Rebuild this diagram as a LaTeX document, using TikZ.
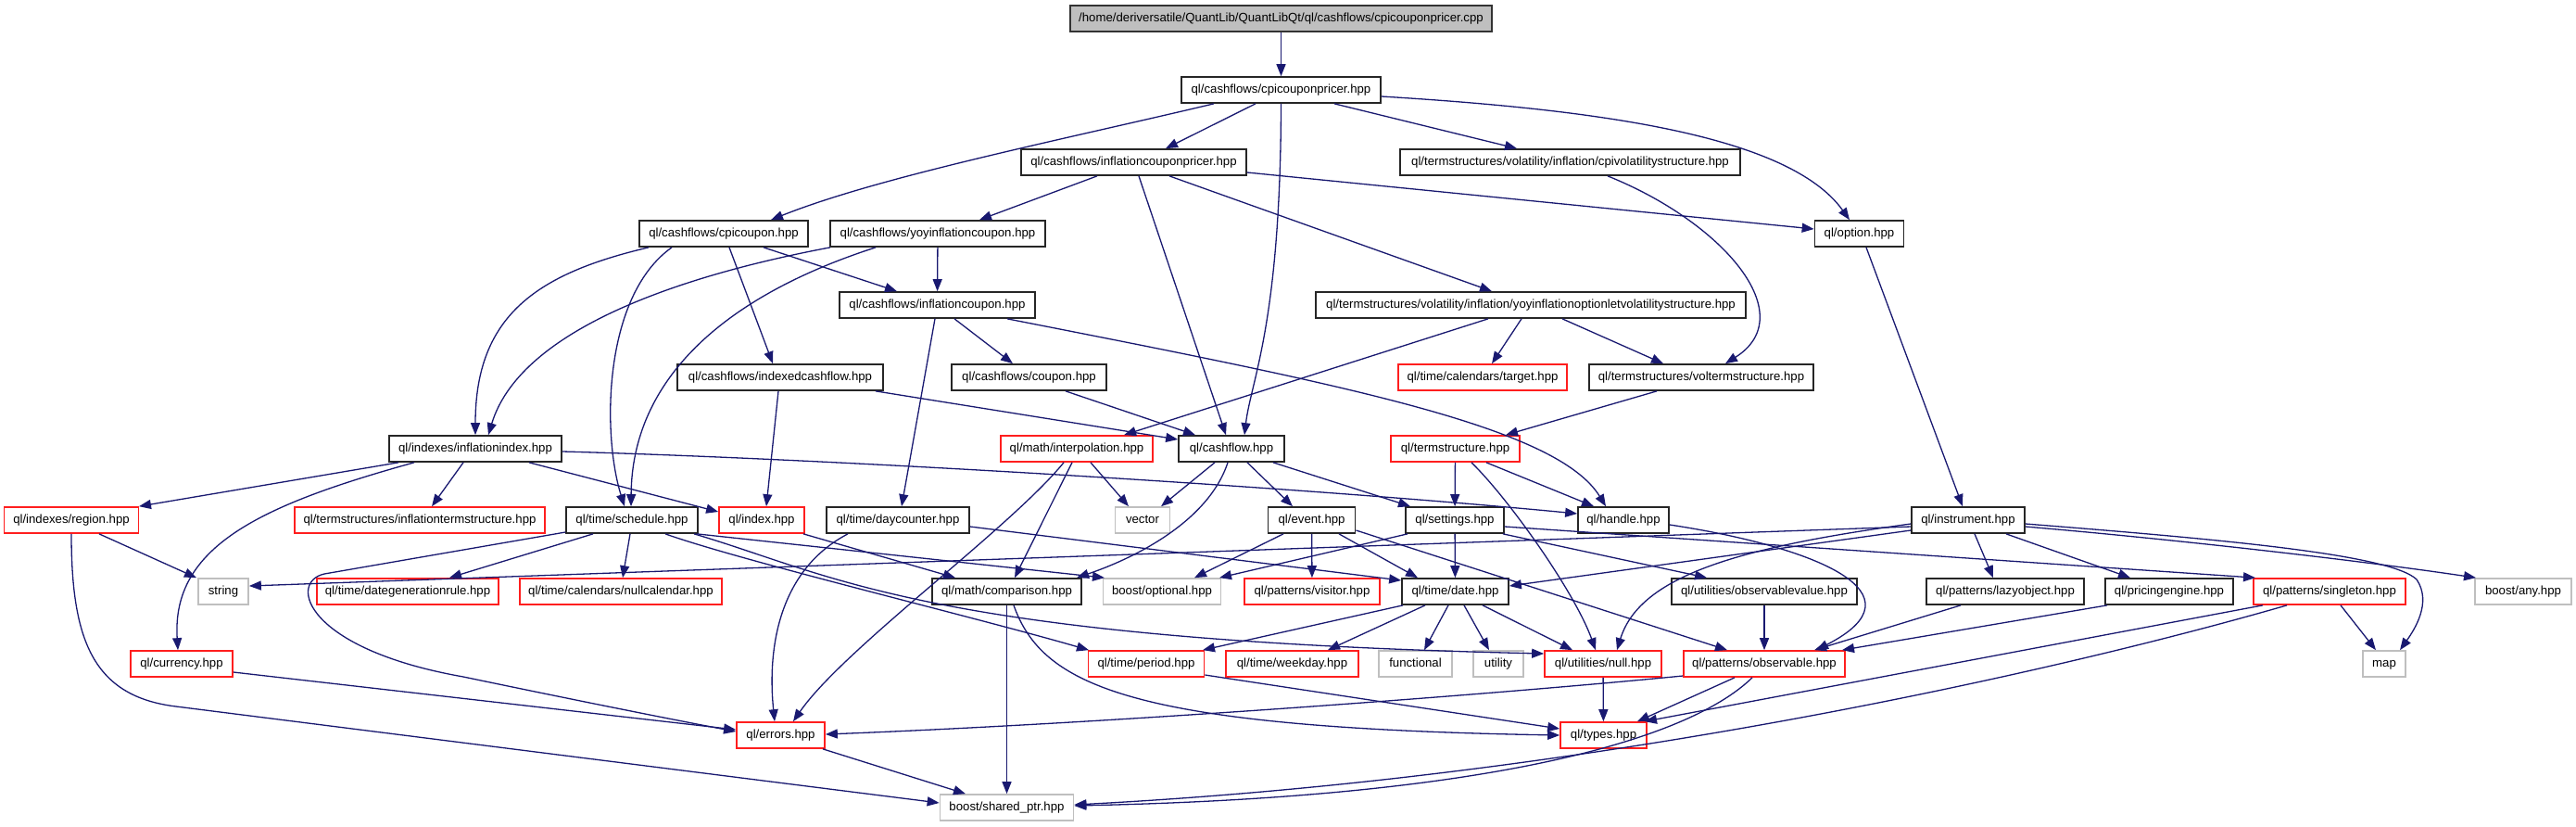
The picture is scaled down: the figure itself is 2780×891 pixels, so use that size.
\documentclass[tikz,border=0pt]{standalone}
\usepackage{fontspec}
\setmainfont{Liberation Sans}
\usetikzlibrary{arrows.meta}
\definecolor{edgeblue}{RGB}{25,25,112}
\definecolor{redb}{RGB}{255,30,30}
\definecolor{grayb}{RGB}{191,191,191}
\begin{document}
\begin{tikzpicture}[x=0.5pt,y=-0.5pt,
  box/.style={rectangle, minimum height=14pt, inner sep=0pt, font=\fontsize{6.6pt}{7pt}\selectfont, text height=4.8pt, text depth=1.3pt},
  bbox/.style={box, draw=black!85, line width=0.85pt},
  rbox/.style={box, draw=redb, line width=0.85pt},
  gbox/.style={box, draw=grayb, line width=0.85pt},
  topbox/.style={box, draw=black!80, fill=grayb, line width=0.85pt},
  e/.style={draw=edgeblue, line width=0.65pt, -{Triangle[length=6.5pt,width=5pt]}}
]
\useasboundingbox (0,0) rectangle (2780,891);
% nodes
\node[topbox,minimum width=227.5pt] (cpp) at (1382.5,20) {/home/deriversatile/QuantLib/QuantLibQt/ql/cashflows/cpicouponpricer.cpp};
\node[bbox,minimum width=107.5pt] (P) at (1382.5,97) {ql/cashflows/cpicouponpricer.hpp};
\node[bbox,minimum width=121.5pt] (icp) at (1223.5,175) {ql/cashflows/inflationcouponpricer.hpp};
\node[bbox,minimum width=183.5pt] (cpivol) at (1694.5,175) {ql/termstructures/volatility/inflation/cpivolatilitystructure.hpp};
\node[bbox,minimum width=91pt] (cc) at (781,252) {ql/cashflows/cpicoupon.hpp};
\node[bbox,minimum width=116pt] (yoy) at (1012,252) {ql/cashflows/yoyinflationcoupon.hpp};
\node[bbox,minimum width=48pt] (opt) at (2006.5,252) {ql/option.hpp};
\node[bbox,minimum width=105.5pt] (ic) at (1011.5,329) {ql/cashflows/inflationcoupon.hpp};
\node[bbox,minimum width=232pt] (yoyvol) at (1652,329) {ql/termstructures/volatility/inflation/yoyinflationoptionletvolatilitystructure.hpp};
\node[bbox,minimum width=111pt] (icf) at (842,407) {ql/cashflows/indexedcashflow.hpp};
\node[bbox,minimum width=83.5pt] (cpn) at (1110.5,407) {ql/cashflows/coupon.hpp};
\node[rbox,minimum width=91pt] (tgt) at (1600,407) {ql/time/calendars/target.hpp};
\node[bbox,minimum width=121pt] (vts) at (1836,407) {ql/termstructures/voltermstructure.hpp};
\node[bbox,minimum width=93pt] (infl) at (513,484) {ql/indexes/inflationindex.hpp};
\node[rbox,minimum width=82pt] (interp) at (1162,484) {ql/math/interpolation.hpp};
\node[bbox,minimum width=57pt] (cf) at (1329,484) {ql/cashflow.hpp};
\node[rbox,minimum width=69.5pt] (ts) at (1570.5,484) {ql/termstructure.hpp};
\node[rbox,minimum width=72.5pt] (reg) at (77,561) {ql/indexes/region.hpp};
\node[rbox,minimum width=135pt] (its) at (453,561) {ql/termstructures/inflationtermstructure.hpp};
\node[bbox,minimum width=71pt] (sch) at (682,561) {ql/time/schedule.hpp};
\node[rbox,minimum width=46pt] (idx) at (822,561) {ql/index.hpp};
\node[bbox,minimum width=77pt] (dc) at (969,561) {ql/time/daycounter.hpp};
\node[gbox,minimum width=29.5pt] (vec) at (1233,561) {vector};
\node[bbox,minimum width=47pt] (ev) at (1415.6,561) {ql/event.hpp};
\node[bbox,minimum width=53pt] (set) at (1570,561) {ql/settings.hpp};
\node[bbox,minimum width=49pt] (hdl) at (1752,561) {ql/handle.hpp};
\node[bbox,minimum width=61pt] (ins) at (2124,561) {ql/instrument.hpp};
\node[gbox,minimum width=27pt] (str) at (241,638) {string};
\node[rbox,minimum width=98pt] (dgr) at (440,638) {ql/time/dategenerationrule.hpp};
\node[rbox,minimum width=109pt] (nullcal) at (670,638) {ql/time/calendars/nullcalendar.hpp};
\node[bbox,minimum width=80.5pt] (cmp) at (1086.5,638) {ql/math/comparison.hpp};
\node[gbox,minimum width=63.5pt] (optl) at (1254,638) {boost/optional.hpp};
\node[rbox,minimum width=73pt] (vis) at (1416,638) {ql/patterns/visitor.hpp};
\node[bbox,minimum width=57.5pt] (date) at (1570.5,638) {ql/time/date.hpp};
\node[bbox,minimum width=100pt] (obv) at (1904,638) {ql/utilities/observablevalue.hpp};
\node[bbox,minimum width=85pt] (lazy) at (2164,638) {ql/patterns/lazyobject.hpp};
\node[bbox,minimum width=69pt] (pe) at (2341,638) {ql/pricingengine.hpp};
\node[rbox,minimum width=82pt] (sgl) at (2514,638) {ql/patterns/singleton.hpp};
\node[gbox,minimum width=52pt] (any) at (2723,638) {boost/any.hpp};
\node[rbox,minimum width=55pt] (cur) at (196,716) {ql/currency.hpp};
\node[rbox,minimum width=62.5pt] (per) at (1237,716) {ql/time/period.hpp};
\node[rbox,minimum width=71.5pt] (wk) at (1394.5,716) {ql/time/weekday.hpp};
\node[gbox,minimum width=39.5pt] (fun) at (1527.5,716) {functional};
\node[gbox,minimum width=26.7pt] (utl) at (1617,716) {utility};
\node[rbox,minimum width=63pt] (nul) at (1730,716) {ql/utilities/null.hpp};
\node[rbox,minimum width=87pt] (obs) at (1904,716) {ql/patterns/observable.hpp};
\node[gbox,minimum width=23pt] (map) at (2573,716) {map};
\node[rbox,minimum width=47.5pt] (err) at (842.5,793) {ql/errors.hpp};
\node[rbox,minimum width=46.5pt] (typ) at (1730.5,793) {ql/types.hpp};
\node[gbox,minimum width=72pt] (sp) at (1086.5,871) {boost/shared\_ptr.hpp};
% edges
\draw[e] (cpp) -- (P);
\draw[e] (P.south -| 1310,0) .. controls (1150,150) and (950,190) .. (cc.north -| 832,0);
\draw[e] (P.south -| 1355,0) -- (icp.north -| 1258,0);
\draw[e] (P.south) .. controls (1382,350) and (1350,410) .. (cf.north -| 1343,0);
\draw[e] (P.south -| 1440,0) -- (cpivol.north -| 1637,0);
\draw[e] (P.east |- 0,104) .. controls (1720,118) and (1930,145) .. (opt.north -| 1996,0);
\draw[e] (icp.south -| 1184,0) -- (yoy.north -| 1057,0);
\draw[e] (icp.south -| 1229,0) -- (cf.north -| 1323,0);
\draw[e] (icp.east |- 0,186) -- (opt.west |- 0,247);
\draw[e] (icp.south -| 1262,0) -- (yoyvol.north -| 1610,0);
\draw[e] (cpivol.south -| 1735,0) .. controls (1860,240) and (1945,340) .. (vts.north -| 1862,0);
\draw[e] (opt.south -| 2014,0) -- (ins.north -| 2118,0);
\draw[e] (cc.south -| 700,0) .. controls (580,295) and (513,340) .. (infl.north -| 513,0);
\draw[e] (cc.south -| 725,0) .. controls (650,320) and (650,470) .. (sch.north -| 674,0);
\draw[e] (cc.south -| 787,0) -- (icf.north -| 834,0);
\draw[e] (cc.south -| 824,0) -- (ic.north -| 968,0);
\draw[e] (yoy.south -| 896,0) .. controls (720,300) and (560,360) .. (infl.north -| 527,0);
\draw[e] (yoy.south -| 945,0) .. controls (780,320) and (682,410) .. (sch.north -| 681,0);
\draw[e] (yoy) -- (ic);
\draw[e] (ic.south -| 1009,0) -- (dc.north -| 973,0);
\draw[e] (ic.south -| 1030,0) -- (cpn.north -| 1093,0);
\draw[e] (ic.south -| 1087,0) .. controls (1450,415) and (1680,460) .. (hdl.north -| 1733,0);
\draw[e] (icf.south -| 840,0) -- (idx.north -| 827,0);
\draw[e] (icf.south -| 945,0) -- (cf.west |- 0,474);
\draw[e] (cpn.south -| 1150,0) -- (cf.north -| 1290,0);
\draw[e] (yoyvol.south -| 1606,0) -- (interp.north -| 1213,0);
\draw[e] (yoyvol.south -| 1642,0) -- (tgt.north -| 1610,0);
\draw[e] (yoyvol.south -| 1686,0) -- (vts.north -| 1795,0);
\draw[e] (vts.south -| 1788,0) -- (ts.north -| 1625,0);
\draw[e] (infl.south -| 430,0) -- (reg.north -| 150,0);
\draw[e] (infl.south -| 447,0) .. controls (280,545) and (185,590) .. (cur.north -| 192,0);
\draw[e] (infl.south -| 500,0) -- (its.north -| 466,0);
\draw[e] (infl.south -| 571,0) -- (idx.west |- 0,552);
\draw[e] (infl.east |- 0,487) .. controls (900,495) and (1400,525) .. (hdl.west |- 0,554);
\draw[e] (interp.south -| 1177,0) -- (vec.north -| 1218,0);
\draw[e] (interp.south -| 1157,0) -- (cmp.north -| 1095,0);
\draw[e] (interp.south -| 1148,0) .. controls (1090,570) and (910,700) .. (err.north -| 856,0);
\draw[e] (cf.south -| 1311,0) -- (vec.north -| 1253,0);
\draw[e] (cf.south -| 1346,0) -- (ev.north -| 1395,0);
\draw[e] (cf.south -| 1374,0) -- (set.north -| 1522,0);
\draw[e] (cf.south -| 1325,0) .. controls (1305,560) and (1230,600) .. (cmp.north -| 1162,0);
\draw[e] (ts) -- (set);
\draw[e] (ts.south -| 1604,0) -- (hdl.north -| 1720,0);
\draw[e] (ts.south -| 1588,0) .. controls (1630,540) and (1700,640) .. (nul.north -| 1722,0);
\draw[e] (reg.south -| 107,0) -- (str.north -| 212,0);
\draw[e] (reg.south -| 77,0) .. controls (77,690) and (100,751) .. (190,762) -- (sp.west |- 0,866);
\draw[e] (sch.west |- 0,574) -- (350,619) .. controls (310,628) and (330,700) .. (500,730) .. controls (620,755) and (720,775) .. (err.west |- 0,789);
\draw[e] (sch.south -| 640,0) -- (dgr.north -| 485,0);
\draw[e] (sch.south -| 680,0) -- (nullcal.north -| 672,0);
\draw[e] (sch.south -| 718,0) .. controls (800,605) and (1050,665) .. (per.north -| 1175,0);
\draw[e] (sch.south -| 749,0) .. controls (900,620) and (1000,690) .. (nul.west |- 0,705);
\draw[e] (sch.south -| 752,0) -- (optl.north -| 1192,0);
\draw[e] (idx.south -| 867,0) -- (cmp.north -| 1031,0);
\draw[e] (dc.south -| 915,0) .. controls (840,615) and (828,700) .. (err.north -| 836,0);
\draw[e] (dc.east |- 0,568) -- (date.west |- 0,626);
\draw[e] (ev) -- (vis);
\draw[e] (ev.south -| 1445,0) -- (date.north -| 1530,0);
\draw[e] (ev.east |- 0,572) -- (obs.north -| 1864,0);
\draw[e] (ev.south -| 1385,0) -- (optl.north -| 1289,0);
\draw[e] (set.south -| 1519,0) -- (optl.north -| 1316,0);
\draw[e] (set) -- (date);
\draw[e] (set.south -| 1622,0) -- (obv.north -| 1842,0);
\draw[e] (set.east |- 0,568) -- (sgl.north -| 2434,0);
\draw[e] (hdl.east |- 0,566) .. controls (1960,590) and (2080,640) .. (obs.north -| 1960,0);
\draw[e] (ins.west |- 0,565) .. controls (1880,590) and (1770,620) .. (nul.north -| 1745,0);
\draw[e] (ins.west |- 0,572) -- (date.east |- 0,632);
\draw[e] (ins.west |- 0,568) -- (str.east |- 0,632);
\draw[e] (ins.south -| 2131,0) -- (lazy.north -| 2151,0);
\draw[e] (ins.south -| 2165,0) -- (pe.north -| 2299,0);
\draw[e] (ins.east |- 0,568) .. controls (2350,582) and (2550,605) .. (any.north -| 2672,0);
\draw[e] (ins.east |- 0,565) .. controls (2400,582) and (2580,598) .. (2608,625) .. controls (2625,650) and (2605,680) .. (map.north -| 2590,0);
\draw[e] (lazy.south -| 2116,0) -- (obs.north -| 1958,0);
\draw[e] (pe.south -| 2274,0) -- (obs.north -| 1988,0);
\draw[e] (obv) -- (obs);
\draw[e] (sgl.south -| 2442,0) -- (typ.north -| 1775,0);
\draw[e] (sgl.south -| 2468,0) .. controls (2200,730) and (1700,840) .. (sp.east |- 0,868);
\draw[e] (sgl.south -| 2526,0) -- (map.north -| 2564,0);
\draw[e] (obs.south -| 1872,0) -- (typ.north -| 1767,0);
\draw[e] (obs.west |- 0,729) .. controls (1600,750) and (1200,780) .. (err.east |- 0,792);
\draw[e] (obs.south -| 1891,0) .. controls (1820,800) and (1600,860) .. (sp.east |- 0,869);
\draw[e] (nul) -- (typ);
\draw[e] (date.south -| 1538,0) -- (wk.north -| 1433,0);
\draw[e] (date.south -| 1563,0) -- (fun.north -| 1537,0);
\draw[e] (date.south -| 1580,0) -- (utl.north -| 1607,0);
\draw[e] (date.south -| 1600,0) -- (nul.north -| 1697,0);
\draw[e] (date.south -| 1514,0) -- (per.north -| 1298,0);
\draw[e] (per.east |- 0,728) -- (typ.west |- 0,786);
\draw[e] (cmp) -- (sp);
\draw[e] (cmp.south -| 1094,0) .. controls (1125,740) and (1220,785) .. (typ.west |- 0,793);
\draw[e] (err.south -| 888,0) -- (sp.north -| 1042,0);
\draw[e] (cur.east |- 0,725) -- (err.west |- 0,787);
\end{tikzpicture}
\end{document}
